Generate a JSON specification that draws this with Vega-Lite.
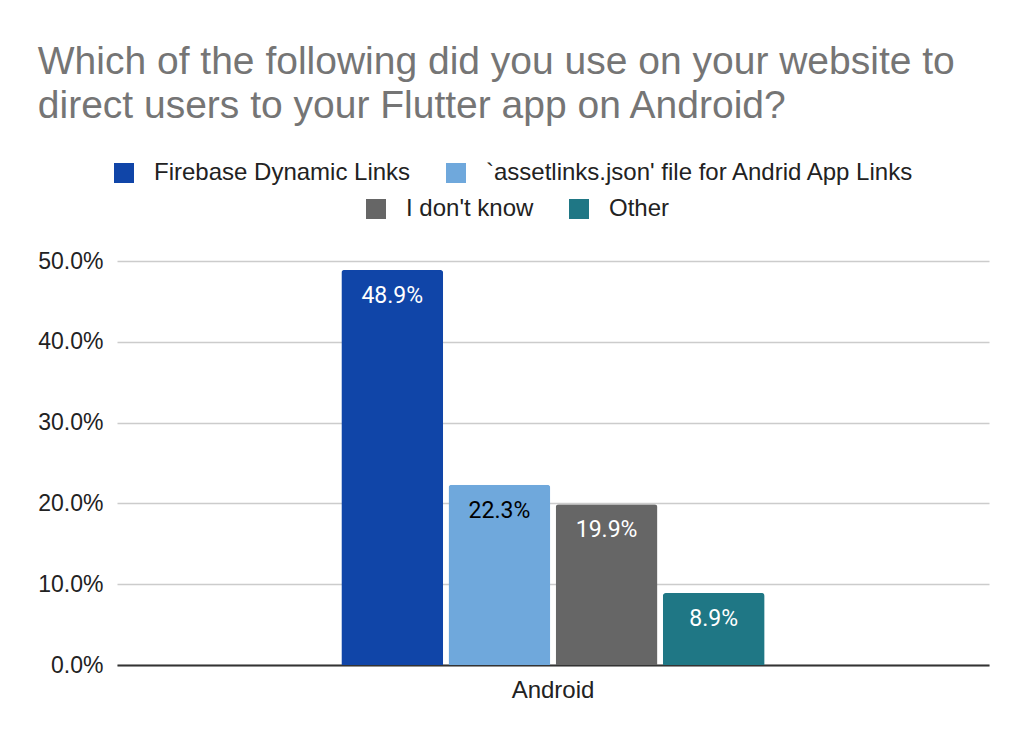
{
  "$schema": "https://vega.github.io/schema/vega-lite/v6.json",
  "width": 1026,
  "height": 742,
  "autosize": {"type": "fit", "contains": "padding"},
  "padding": {"left": 37, "right": 37, "top": 43, "bottom": 40},
  "background": "white",
  "title": {
    "text": ["Which of the following did you use on your website to", "direct users to your Flutter app on Android?"],
    "anchor": "start",
    "frame": "bounds",
    "font": "Liberation Sans",
    "fontSize": 39,
    "fontWeight": "normal",
    "lineHeight": 44,
    "color": "#757575",
    "offset": 124
  },
  "data": {
    "values": [
      {"platform": "Android", "series": "Firebase Dynamic Links", "value": 0.489},
      {"platform": "Android", "series": "`assetlinks.json' file for Andrid App Links", "value": 0.223},
      {"platform": "Android", "series": "I don't know", "value": 0.199},
      {"platform": "Android", "series": "Other", "value": 0.089}
    ]
  },
  "encoding": {
    "x": {
      "field": "platform",
      "type": "nominal",
      "scale": {"paddingOuter": 0.53, "paddingInner": 0},
      "axis": {
        "title": null,
        "labelAngle": 0,
        "labelFont": "Liberation Sans",
        "labelFontSize": 24,
        "labelColor": "#222222",
        "labelPadding": 13,
        "ticks": false,
        "domainColor": "#333333",
        "domainWidth": 2
      }
    },
    "xOffset": {
      "field": "series",
      "type": "nominal",
      "scale": {
        "domain": ["Firebase Dynamic Links", "`assetlinks.json' file for Andrid App Links", "I don't know", "Other"],
        "paddingInner": 0.05,
        "paddingOuter": 0
      }
    },
    "y": {
      "field": "value",
      "type": "quantitative",
      "scale": {"domain": [0, 0.5]},
      "axis": {
        "title": null,
        "format": ".1%",
        "values": [0, 0.1, 0.2, 0.3, 0.4, 0.5],
        "labelFont": "Liberation Sans",
        "labelFontSize": 23,
        "labelColor": "#222222",
        "labelPadding": 14,
        "ticks": false,
        "domain": false,
        "gridColor": "#cccccc",
        "gridWidth": 1.5
      }
    }
  },
  "layer": [
    {
      "transform": [{"filter": "datum.series == 'Firebase Dynamic Links' || datum.series == \"`assetlinks.json' file for Andrid App Links\""}],
      "mark": {"type": "bar", "cornerRadiusTopLeft": 3, "cornerRadiusTopRight": 3},
      "encoding": {
        "fill": {
          "field": "series",
          "type": "nominal",
          "scale": {
            "domain": ["Firebase Dynamic Links", "`assetlinks.json' file for Andrid App Links"],
            "range": ["#1045a8", "#6fa8dc"]
          },
          "legend": {"title": null, "orient": "none", "direction": "horizontal", "legendX": -5, "legendY": -100}
        }
      }
    },
    {
      "transform": [{"filter": "datum.series == \"I don't know\" || datum.series == 'Other'"}],
      "mark": {"type": "bar", "cornerRadiusTopLeft": 3, "cornerRadiusTopRight": 3},
      "encoding": {
        "color": {
          "field": "series",
          "type": "nominal",
          "scale": {
            "domain": ["I don't know", "Other"],
            "range": ["#666666", "#1f7785"]
          },
          "legend": {"title": null, "orient": "none", "direction": "horizontal", "legendX": 247, "legendY": -64}
        }
      }
    },
    {
      "mark": {"type": "text", "baseline": "top", "dy": 15, "font": "Roboto", "fontSize": 23},
      "encoding": {
        "text": {"field": "value", "type": "quantitative", "format": ".1%"},
        "color": {
          "condition": {"test": "datum.series == \"`assetlinks.json' file for Andrid App Links\"", "value": "#000000"},
          "value": "#ffffff"
        }
      }
    }
  ],
  "resolve": {"scale": {"color": "independent", "fill": "independent"}},
  "config": {
    "view": {"stroke": null},
    "legend": {
      "symbolType": "square",
      "symbolSize": 400,
      "symbolStrokeWidth": 0,
      "labelFont": "Liberation Sans",
      "labelFontSize": 24,
      "labelColor": "#222222",
      "labelOffset": 18,
      "labelLimit": 600,
      "columnPadding": 33
    }
  }
}
